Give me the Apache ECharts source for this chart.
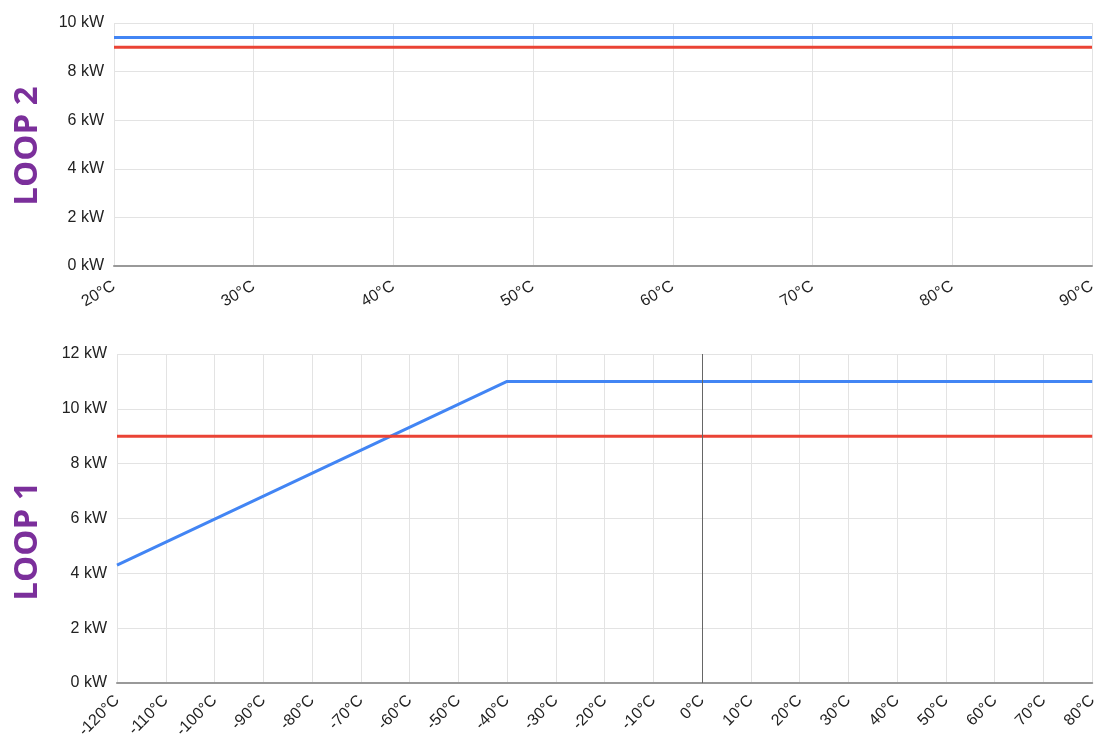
<!DOCTYPE html>
<html><head><meta charset="utf-8">
<script src="https://cdn.jsdelivr.net/npm/echarts@6/dist/echarts.min.js"></script>
<style>html,body{margin:0;padding:0;background:#fff}#c{width:1100px;height:742px}</style>
</head><body><div id="c"></div>
<script>
// LOOP 2 (top)
const loop2Temps = [20, 90];
const loop2Blue = [9.4, 9.4];
const loop2Red = [9, 9];
// LOOP 1 (bottom)
const loop1BlueTemps = [-120, -40, 80];
const loop1Blue = [4.3, 11, 11];
const loop1RedTemps = [-120, 80];
const loop1Red = [9, 9];
const titles = ['LOOP 2', 'LOOP 1'];

const pair = (xs, ys) => xs.map((x, i) => [x, ys[i]]);
const BLUE = '#4285f4', RED = '#ea4335';
const labelStyle = {color: '#222', fontSize: 16, fontFamily: '"Liberation Sans", Arial, sans-serif'};
const gridLine = {show: true, lineStyle: {color: '#e3e3e3', width: 1}};

const chart = echarts.init(document.getElementById('c'));
chart.setOption({
  animation: false,
  backgroundColor: '#fff',
  grid: [
    {left: 114, right: 8, top: 23, height: 243},
    {left: 117, right: 3, top: 354, height: 329}
  ],
  xAxis: [
    {type: 'value', gridIndex: 0, min: 20, max: 90, interval: 10,
     axisLine: {show: true, onZero: false, lineStyle: {color: '#999', width: 2}},
     axisTick: {show: false}, splitLine: gridLine,
     axisLabel: Object.assign({formatter: '{value}°C', rotate: 30, margin: 19}, labelStyle)},
    {type: 'value', gridIndex: 1, min: -120, max: 80, interval: 10,
     axisLine: {show: true, onZero: false, lineStyle: {color: '#999', width: 2}},
     axisTick: {show: false}, splitLine: gridLine,
     axisLabel: Object.assign({formatter: '{value}°C', rotate: 45, margin: 15}, labelStyle)}
  ],
  yAxis: [
    {type: 'value', gridIndex: 0, min: 0, max: 10, interval: 2,
     axisLine: {show: false}, axisTick: {show: false}, splitLine: gridLine,
     axisLabel: Object.assign({formatter: '{value} kW', margin: 10}, labelStyle)},
    {type: 'value', gridIndex: 1, min: 0, max: 12, interval: 2,
     axisLine: {show: false}, axisTick: {show: false}, splitLine: gridLine,
     axisLabel: Object.assign({formatter: '{value} kW', margin: 10}, labelStyle)}
  ],
  series: [
    {type: 'line', xAxisIndex: 0, yAxisIndex: 0, data: pair(loop2Temps, loop2Blue),
     showSymbol: false, lineStyle: {color: BLUE, width: 3}, z: 3},
    {type: 'line', xAxisIndex: 0, yAxisIndex: 0, data: pair(loop2Temps, loop2Red),
     showSymbol: false, lineStyle: {color: RED, width: 3}, z: 3},
    {type: 'line', xAxisIndex: 1, yAxisIndex: 1, data: pair(loop1BlueTemps, loop1Blue),
     showSymbol: false, lineStyle: {color: BLUE, width: 3}, z: 3,
     markLine: {silent: true, symbol: 'none', label: {show: false},
       lineStyle: {color: '#666', width: 1, type: 'solid'}, data: [{xAxis: 0}]}},
    {type: 'line', xAxisIndex: 1, yAxisIndex: 1, data: pair(loop1RedTemps, loop1Red),
     showSymbol: false, lineStyle: {color: RED, width: 3}, z: 3}
  ],
  graphic: [
    {type: 'text', x: 28, y: 146, rotation: Math.PI / 2,
     style: {text: titles[0], fill: '#7b2f9b', font: 'bold 33px "Open Sans", sans-serif',
             textAlign: 'center', textVerticalAlign: 'middle'}},
    {type: 'text', x: 28, y: 541, rotation: Math.PI / 2,
     style: {text: titles[1], fill: '#7b2f9b', font: 'bold 33px "Open Sans", sans-serif',
             textAlign: 'center', textVerticalAlign: 'middle'}}
  ]
});
</script></body></html>
